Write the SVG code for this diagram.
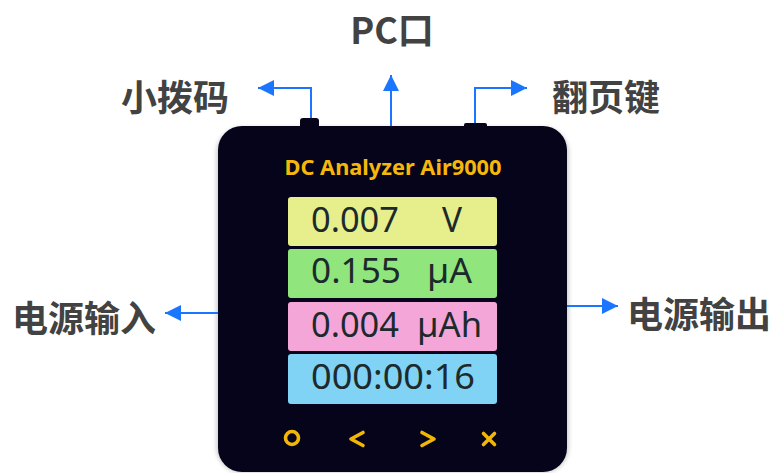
<svg xmlns="http://www.w3.org/2000/svg" width="776" height="473" viewBox="0 0 776 473">
  <defs>
    <style>
      .label { font-family: "Noto Sans CJK SC", "Noto Sans", sans-serif; font-weight: 700; font-size: 36px; fill: #424242; }
      .wire { fill: none; stroke: #1a75ff; stroke-width: 2; }
      .row-text { font-family: "Noto Sans", "DejaVu Sans", sans-serif; font-size: 34px; fill: #1c2a2c; }
      .key { fill: none; stroke: #f2b705; stroke-width: 3.6; stroke-linecap: round; stroke-linejoin: round; }
    </style>
    <marker id="head" viewBox="0 0 16 16" refX="16" refY="8" markerWidth="16" markerHeight="16" markerUnits="userSpaceOnUse" orient="auto">
      <path d="M0,0 L16,8 L0,16 z" fill="#1a75ff"/>
    </marker>
    <filter id="shade" x="-10%" y="-10%" width="120%" height="120%">
      <feGaussianBlur stdDeviation="2"/>
    </filter>
  </defs>

  <rect width="776" height="473" fill="#ffffff"/>

  <!-- analyzer body -->
  <g id="device">
    <rect x="216" y="127" width="353" height="346" rx="26" fill="#000000" opacity="0.18" filter="url(#shade)"/>
    <rect x="300" y="118" width="19" height="12" rx="3" fill="#05041a"/>
    <rect x="464" y="123" width="23" height="7" rx="2" fill="#05041a"/>
    <rect x="218" y="126" width="349" height="346" rx="24" fill="#05041a"/>
    <text x="393" y="175" text-anchor="middle" textLength="217" lengthAdjust="spacingAndGlyphs" font-family="Noto Sans, sans-serif" font-weight="700" font-size="21" fill="#f5b80a">DC Analyzer Air9000</text>

    <g id="row-voltage">
      <rect x="288" y="197" width="209" height="49" rx="3" fill="#e7ef8d"/>
      <text class="row-text" x="311" y="232" textLength="88" lengthAdjust="spacingAndGlyphs">0.007</text>
      <text class="row-text" x="442" y="232" textLength="20" lengthAdjust="spacingAndGlyphs">V</text>
    </g>
    <g id="row-current">
      <rect x="288" y="249" width="209" height="49" rx="3" fill="#90e57c"/>
      <text class="row-text" x="311" y="283" textLength="90" lengthAdjust="spacingAndGlyphs">0.155</text>
      <text class="row-text" x="427" y="283" textLength="45" lengthAdjust="spacingAndGlyphs">µA</text>
    </g>
    <g id="row-charge">
      <rect x="288" y="302" width="209" height="49" rx="3" fill="#f5a6d9"/>
      <text class="row-text" x="311" y="337" textLength="88" lengthAdjust="spacingAndGlyphs">0.004</text>
      <text class="row-text" x="417" y="337" textLength="65" lengthAdjust="spacingAndGlyphs">µAh</text>
    </g>
    <g id="row-time">
      <rect x="288" y="354" width="209" height="50" rx="3" fill="#80d3f4"/>
      <text class="row-text" x="311" y="389" textLength="164" lengthAdjust="spacingAndGlyphs">000:00:16</text>
    </g>

    <g id="keys">
      <circle class="key" cx="292" cy="438" r="6.5"/>
      <polyline class="key" points="363,432.5 351,439 363,445.5"/>
      <polyline class="key" points="422,432.5 434,439 422,445.5"/>
      <path class="key" d="M483.5,433.5 L494.5,444.5 M494.5,433.5 L483.5,444.5" stroke-width="5"/>
    </g>
  </g>

  <!-- connectors from device ports -->
  <g id="connectors">
    <polyline class="wire" points="311,118 311,88 258,88" marker-end="url(#head)"/>
    <polyline class="wire" points="391,126 391,75" marker-end="url(#head)"/>
    <polyline class="wire" points="475,123 475,88 527,88" marker-end="url(#head)"/>
    <polyline class="wire" points="218,313 165,313" marker-end="url(#head)"/>
    <polyline class="wire" points="567,306 618,306" marker-end="url(#head)"/>
  </g>

  <g id="label-pc">
    <text class="label" x="392" y="44" text-anchor="middle">PC口</text>
  </g>
  <g id="label-switch">
    <text class="label" x="121" y="111">小拨码</text>
  </g>
  <g id="label-page">
    <text class="label" x="552" y="111">翻页键</text>
  </g>
  <g id="label-input">
    <text class="label" x="12" y="332">电源输入</text>
  </g>
  <g id="label-output">
    <text class="label" x="627" y="328">电源输出</text>
  </g>
</svg>
